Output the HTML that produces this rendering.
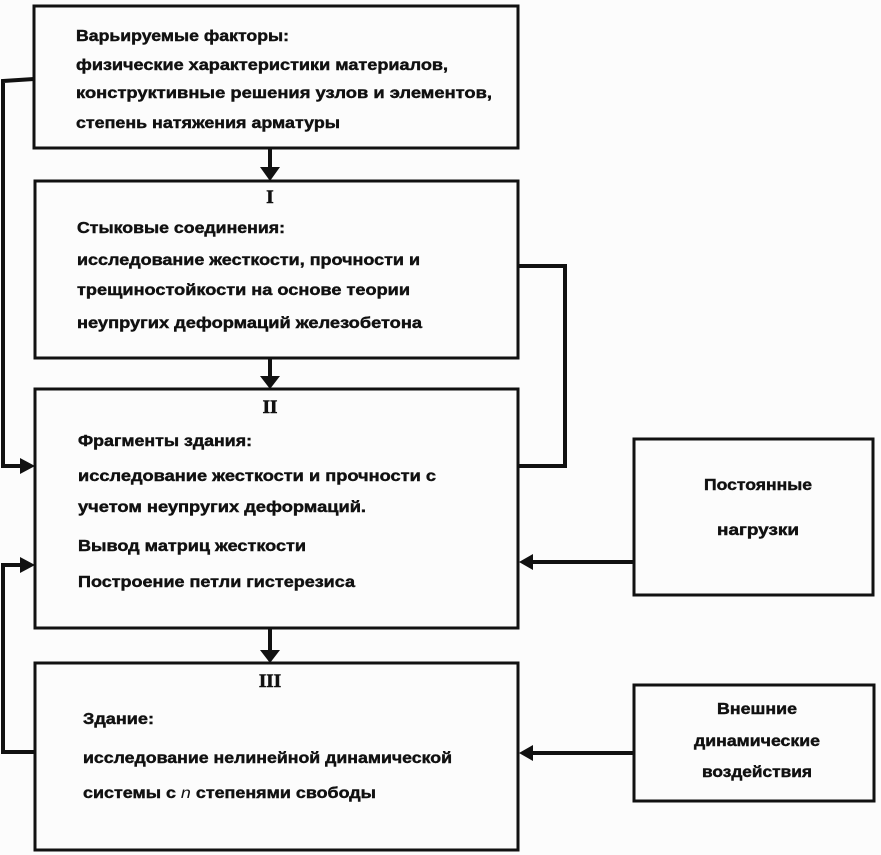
<!DOCTYPE html>
<html>
<head>
<meta charset="utf-8">
<style>
  html,body{margin:0;padding:0;background:#fcfcfc;}
  svg{display:block;}
  text{font-family:"Liberation Sans","DejaVu Sans",sans-serif;font-weight:bold;font-size:16px;fill:#111;stroke:#111;stroke-width:0.45px;}
  .rn{font-family:"Liberation Serif","DejaVu Serif",serif;font-weight:bold;font-size:19px;stroke-width:0.6px;}
</style>
</head>
<body>
<svg width="881" height="855" viewBox="0 0 881 855" xmlns="http://www.w3.org/2000/svg">
  <rect x="0" y="0" width="881" height="855" fill="#fcfcfc"/>

  <!-- Boxes -->
  <g fill="none" stroke="#111" stroke-width="3">
    <rect x="34" y="6" width="484" height="142"/>
    <rect x="35" y="181" width="483" height="177"/>
    <rect x="35" y="389" width="483" height="239"/>
    <rect x="35" y="663" width="483" height="187"/>
    <rect x="634" y="439" width="239" height="156"/>
    <rect x="634" y="685" width="240" height="116"/>
  </g>

  <!-- Connectors -->
  <g fill="none" stroke="#111" stroke-width="4">
    <line x1="270" y1="148" x2="270" y2="170"/>
    <line x1="270" y1="358" x2="270" y2="378"/>
    <line x1="270" y1="628" x2="270" y2="652"/>
    <polyline points="34,79 3,81 3,466 22,466"/>
    <polyline points="35,752 3,752 3,565 22,565"/>
    <polyline points="518,266 565,266 565,466 518,466"/>
    <line x1="634" y1="562" x2="530" y2="562"/>
    <line x1="634" y1="753" x2="530" y2="753"/>
  </g>

  <!-- Arrowheads -->
  <g fill="#111">
    <polygon points="260,167 280,167 270,181"/>
    <polygon points="260,376 280,376 270,389"/>
    <polygon points="260,650 280,650 270,663"/>
    <polygon points="20,458 20,474 35,466"/>
    <polygon points="20,557 20,573 35,565"/>
    <polygon points="533,554 533,570 519,562"/>
    <polygon points="533,745 533,761 519,753"/>
  </g>

  <!-- Box 1 text -->
  <text x="76" y="41" textLength="213" lengthAdjust="spacingAndGlyphs">Варьируемые факторы:</text>
  <text x="76" y="70" textLength="372" lengthAdjust="spacingAndGlyphs">физические характеристики материалов,</text>
  <text x="76" y="98" textLength="416" lengthAdjust="spacingAndGlyphs">конструктивные решения узлов и элементов,</text>
  <text x="76" y="128" textLength="264" lengthAdjust="spacingAndGlyphs">степень натяжения арматуры</text>

  <!-- Box I text -->
  <text class="rn" x="270" y="203" text-anchor="middle">I</text>
  <text x="77" y="233" textLength="208" lengthAdjust="spacingAndGlyphs">Стыковые соединения:</text>
  <text x="77" y="265" textLength="343" lengthAdjust="spacingAndGlyphs">исследование жесткости, прочности и</text>
  <text x="77" y="295" textLength="333" lengthAdjust="spacingAndGlyphs">трещиностойкости на основе теории</text>
  <text x="77" y="328" textLength="345" lengthAdjust="spacingAndGlyphs">неупругих деформаций железобетона</text>

  <!-- Box II text -->
  <text class="rn" x="270" y="413" text-anchor="middle">II</text>
  <text x="78" y="446" textLength="174" lengthAdjust="spacingAndGlyphs">Фрагменты здания:</text>
  <text x="78" y="481" textLength="358" lengthAdjust="spacingAndGlyphs">исследование жесткости и прочности с</text>
  <text x="78" y="512" textLength="288" lengthAdjust="spacingAndGlyphs">учетом неупругих деформаций.</text>
  <text x="78" y="551" textLength="228" lengthAdjust="spacingAndGlyphs">Вывод матриц жесткости</text>
  <text x="78" y="587" textLength="277" lengthAdjust="spacingAndGlyphs">Построение петли гистерезиса</text>

  <!-- Box III text -->
  <text class="rn" x="270" y="687" text-anchor="middle">III</text>
  <text x="83" y="724" textLength="71" lengthAdjust="spacingAndGlyphs">Здание:</text>
  <text x="83" y="763" textLength="369" lengthAdjust="spacingAndGlyphs">исследование нелинейной динамической</text>
  <text x="83" y="798" textLength="293" lengthAdjust="spacingAndGlyphs">системы с <tspan font-style="italic" font-weight="normal" stroke-width="0">n</tspan> степенями свободы</text>

  <!-- Right boxes text -->
  <text x="758" y="490" text-anchor="middle" textLength="108" lengthAdjust="spacingAndGlyphs">Постоянные</text>
  <text x="758" y="535" text-anchor="middle" textLength="82" lengthAdjust="spacingAndGlyphs">нагрузки</text>
  <text x="757" y="714" text-anchor="middle" textLength="80" lengthAdjust="spacingAndGlyphs">Внешние</text>
  <text x="757" y="746" text-anchor="middle" textLength="126" lengthAdjust="spacingAndGlyphs">динамические</text>
  <text x="757" y="777" text-anchor="middle" textLength="110" lengthAdjust="spacingAndGlyphs">воздействия</text>
</svg>
</body>
</html>
